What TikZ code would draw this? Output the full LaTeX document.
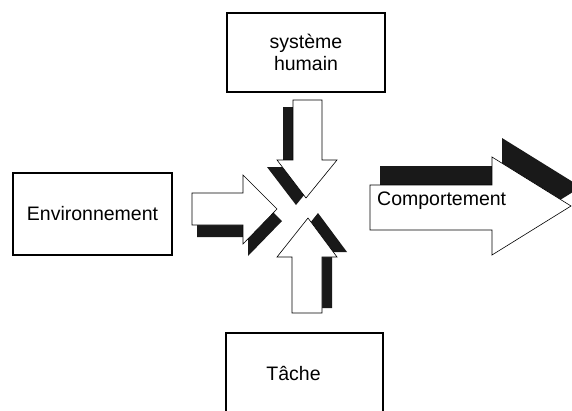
\documentclass[tikz,border=0pt]{standalone}
\usepackage{fontspec}
\setmainfont{Liberation Sans}
\begin{document}
\begin{tikzpicture}[x=1pt,y=-1pt,
        box/.style={draw,line width=1.2pt,align=center,inner sep=0pt},
        arrowbody/.style={draw,fill=white,line width=0.6pt,line join=miter},
        shadow/.style={fill=black!90}]
    \useasboundingbox (0,0) rectangle (572,410);
    \clip (0,0) rectangle (572,410);
    \fontsize{19.5}{22}\selectfont
    % the three boxes
    \node[box,minimum width=158pt,minimum height=79pt] (humain) at (306,52.5) {système\\humain};
    \node[box,minimum width=159pt,minimum height=82pt] (env) at (92.5,214) {Environnement};
    \node[box,minimum width=157pt,minimum height=80pt] (tache) at (304.5,373) {\hspace*{-22pt}Tâche};
    % arrow down, from the box above
    \fill[shadow,shift={(-10,7)}] (293,100) -- (322,100) -- (322,160) -- (337,160) -- (306,198) -- (277,160) -- (293,160) -- cycle;
    \filldraw[arrowbody] (293,100) -- (322,100) -- (322,160) -- (337,160) -- (306,198) -- (277,160) -- (293,160) -- cycle;
    % arrow right, from the box on the left
    \fill[shadow,shift={(5,12)}] (192,193) -- (243,193) -- (243,175) -- (277,209) -- (243,244) -- (243,225) -- (192,225) -- cycle;
    \filldraw[arrowbody] (192,193) -- (243,193) -- (243,175) -- (277,209) -- (243,244) -- (243,225) -- (192,225) -- cycle;
    % arrow up, from the box below
    \fill[shadow,shift={(10,-5)}] (292,313) -- (322,313) -- (322,257) -- (337,257) -- (308,218) -- (277,257) -- (292,257) -- cycle;
    \filldraw[arrowbody] (292,313) -- (322,313) -- (322,257) -- (337,257) -- (308,218) -- (277,257) -- (292,257) -- cycle;
    % big arrow on the right
    \fill[shadow,shift={(10,-19)}] (370,185) -- (492,185) -- (492,157) -- (571,206) -- (492,255) -- (492,230) -- (370,230) -- cycle;
    \filldraw[arrowbody] (370,185) -- (492,185) -- (492,157) -- (571,206) -- (492,255) -- (492,230) -- (370,230) -- cycle;
    \node[anchor=base west,inner sep=0pt] (comp) at (377,205) {Comportement};
\end{tikzpicture}
\end{document}
